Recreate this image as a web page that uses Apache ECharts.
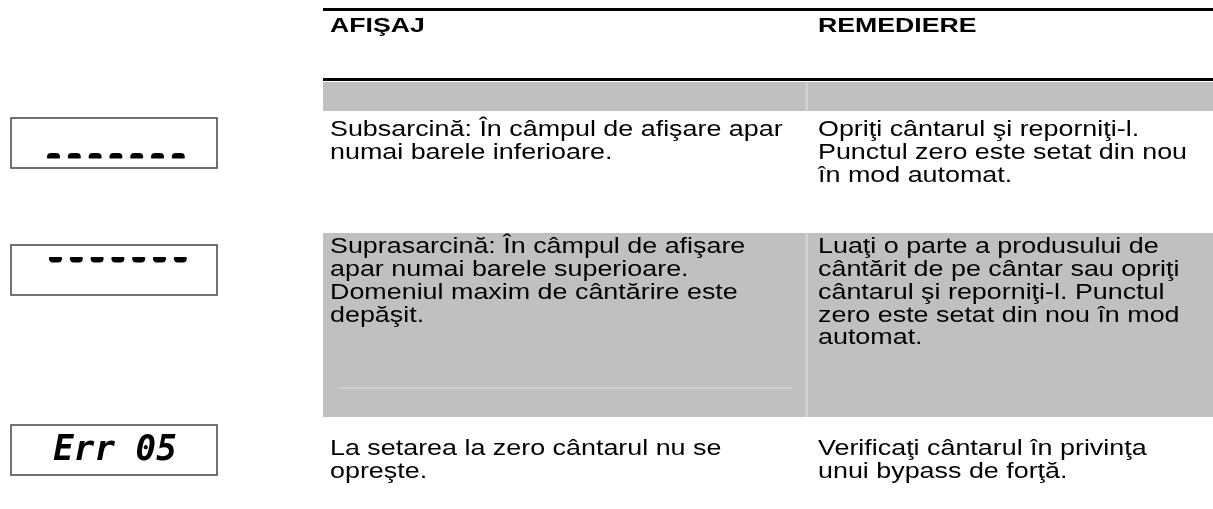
<!DOCTYPE html>
<html><head><meta charset="utf-8">
<script src="https://cdn.jsdelivr.net/npm/echarts@6/dist/echarts.min.js"></script>
<style>html,body{margin:0;padding:0;background:#fff}#c{width:1213px;height:509px}</style>
</head><body><div id="c"></div>
<script>
// ---- data ----
const headers = ['AFIŞAJ', 'REMEDIERE'];
const causes = [
  'Subsarcină: În câmpul de afişare apar\nnumai barele inferioare.',
  'Suprasarcină: În câmpul de afişare\napar numai barele superioare.\nDomeniul maxim de cântărire este\ndepăşit.',
  'La setarea la zero cântarul nu se\nopreşte.'
];
const remedies = [
  'Opriţi cântarul şi reporniţi-l.\nPunctul zero este setat din nou\nîn mod automat.',
  'Luaţi o parte a produsului de\ncântărit de pe cântar sau opriţi\ncântarul şi reporniţi-l. Punctul\nzero este setat din nou în mod\nautomat.',
  'Verificaţi cântarul în privinţa\nunui bypass de forţă.'
];
const displayText = ['', '', 'Err 05'];
const displayBars = ['bottom', 'top', 'none'];
const barCount = 7;

// ---- layout (pixel space of the hidden value axes) ----
const L = {
  W: 1213, H: 509,
  tableLeft: 323, colX: [330, 818], sepX: 806,
  rules: [9.5, 79.5], ruleWidth: 3,
  bandTop: 82, bandBottom: 111,
  rowTop: [111, 233, 417], rowBottom: [230, 417, 509],
  textCenter: [130.5, 247.5, 449.5], lineH: 22.7,
  headerY: 26,
  box: { x0: 11, x1: 217, tops: [118, 245, 425], h: 50 },
  bars: { startX: [47, 49, 0], pitch: 20.8, w: 13, h: 5.5, yBottom: 35, yTop: 12 },
  bodyFont: '21.5px "Liberation Sans", Arial, sans-serif', bodyScale: 1.25,
  headFont: 'bold 21px "Liberation Sans", Arial, sans-serif', headScale: 1.27,
  gray: '#c0c0c0', light: '#dadada'
};

const chart = echarts.init(document.getElementById('c'), null, { renderer: 'canvas' });

function rectShape(api, x0, y0, x1, y1) {
  const a = api.coord([x0, y0]), b = api.coord([x1, y1]);
  return { x: Math.min(a[0], b[0]), y: Math.min(a[1], b[1]), width: Math.abs(b[0] - a[0]), height: Math.abs(b[1] - a[1]) };
}

function textEl(api, x, yCenter, text, font, scale, lineH) {
  const p = api.coord([x, yCenter - lineH / 2]);
  return {
    type: 'text', x: p[0], y: p[1], scaleX: scale, scaleY: 1,
    style: { text: text, font: font, fill: '#000', lineHeight: lineH, align: 'left', verticalAlign: 'top' }
  };
}

function renderHeader(params, api) {
  const i = params.dataIndex;
  const children = [];
  if (i === 0) {
    L.rules.forEach(y => {
      const a = api.coord([L.tableLeft, y]), b = api.coord([L.W, y]);
      children.push({ type: 'line', shape: { x1: a[0], y1: a[1], x2: b[0], y2: b[1] }, style: { stroke: '#000', lineWidth: L.ruleWidth } });
    });
    children.push({ type: 'rect', shape: rectShape(api, L.tableLeft, L.bandTop, L.W, L.bandBottom), style: { fill: L.gray } });
    children.push({ type: 'rect', shape: rectShape(api, L.sepX, L.bandTop, L.sepX + 1.5, L.bandBottom), style: { fill: L.light } });
  }
  children.push(textEl(api, L.colX[i], L.headerY, headers[i], L.headFont, L.headScale, 24));
  return { type: 'group', children };
}

function renderRow(params, api) {
  const i = params.dataIndex;
  const children = [];
  if (i % 2 === 1) {
    children.push({ type: 'rect', shape: rectShape(api, L.tableLeft, L.rowTop[i], L.W, L.rowBottom[i]), style: { fill: L.gray } });
    children.push({ type: 'rect', shape: rectShape(api, L.sepX, L.rowTop[i], L.sepX + 1.5, L.rowBottom[i]), style: { fill: L.light } });
    children.push({ type: 'rect', shape: rectShape(api, 338, L.rowBottom[i] - 29.5, 793, L.rowBottom[i] - 28.5), style: { fill: L.light } });
  }
  const bt = L.box.tops[i];
  children.push({ type: 'rect', shape: rectShape(api, L.box.x0, bt, L.box.x1, bt + L.box.h), style: { fill: '#fff', stroke: '#444', lineWidth: 1.5 } });
  if (displayBars[i] !== 'none') {
    const isBottom = displayBars[i] === 'bottom';
    const yy = bt + (isBottom ? L.bars.yBottom : L.bars.yTop);
    for (let k = 0; k < barCount; k++) {
      const x = L.bars.startX[i] + k * L.bars.pitch;
      const s = rectShape(api, x, yy, x + L.bars.w, yy + L.bars.h);
      s.r = isBottom ? [4, 4, 1, 1] : [1, 1, 4, 4];
      children.push({ type: 'rect', shape: s, style: { fill: '#000' } });
    }
  }
  if (displayText[i]) {
    const p = api.coord([(L.box.x0 + L.box.x1) / 2 + 1, bt + L.box.h / 2 + 1]);
    children.push({ type: 'text', x: p[0], y: p[1], scaleX: 0.95,
      style: { text: displayText[i], font: 'italic bold 36px "DejaVu Sans Mono", monospace', fill: '#000', align: 'center', verticalAlign: 'middle' } });
  }
  children.push(textEl(api, L.colX[0], L.textCenter[i], causes[i], L.bodyFont, L.bodyScale, L.lineH));
  children.push(textEl(api, L.colX[1], L.textCenter[i], remedies[i], L.bodyFont, L.bodyScale, L.lineH));
  return { type: 'group', children };
}

chart.setOption({
  animation: false,
  grid: { left: 0, right: 0, top: 0, bottom: 0 },
  xAxis: { type: 'value', min: 0, max: L.W, show: false },
  yAxis: { type: 'value', min: 0, max: L.H, inverse: true, show: false },
  series: [
    { type: 'custom', name: 'rows', coordinateSystem: 'cartesian2d', clip: false, silent: true,
      data: causes.map((c, i) => [i, i]), renderItem: renderRow, encode: { x: 0, y: 1 } },
    { type: 'custom', name: 'header', coordinateSystem: 'cartesian2d', clip: false, silent: true,
      data: headers.map((h, i) => [i, 0]), renderItem: renderHeader, encode: { x: 0, y: 1 } }
  ]
});
</script></body></html>
